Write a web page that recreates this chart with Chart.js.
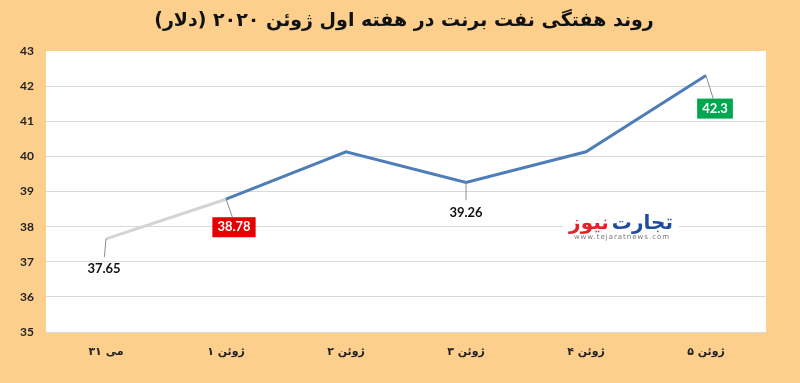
<!DOCTYPE html>
<html>
<head>
<meta charset="utf-8">
<script src="https://cdn.jsdelivr.net/npm/chart.js@4"></script>
<style>
  html, body { margin: 0; padding: 0; background: #fdcf8c; }
  #wrap { width: 800px; height: 383px; }
</style>
</head>
<body>
<div id="wrap"><canvas id="brent"></canvas></div>
<script>
const titleText = "روند هفتگی نفت برنت در هفته اول ژوئن ۲۰۲۰ (دلار)";
const days = ["۳۱ می", "۱ ژوئن", "۲ ژوئن", "۳ ژوئن", "۴ ژوئن", "۵ ژوئن"];
const brentPrice = [37.65, 38.78, 40.13, 39.26, 40.13, 42.3];
const yTicks = [35, 36, 37, 38, 39, 40, 41, 42, 43];

// which points get a label, and how it looks
const labelStyle = {
  0: { dx: -2, dy: 30, box: null },
  1: { dx: 8, dy: 28, box: "#e60000" },
  3: { dx: 0, dy: 30, box: null },
  5: { dx: 9, dy: 33, box: "#00a650" },
};

const bgPlugin = {
  id: "bg",
  beforeDraw(chart) {
    const { ctx, chartArea: a } = chart;
    ctx.save();
    ctx.fillStyle = "#fdcf8c";
    ctx.fillRect(0, 0, chart.width, chart.height);
    ctx.fillStyle = "#ffffff";
    ctx.fillRect(a.left, a.top, a.right - a.left, a.bottom - a.top);
    ctx.restore();
  },
  afterDraw(chart) {
    const ctx = chart.ctx;
    ctx.save();
    ctx.fillStyle = "#111";
    ctx.font = "bold 19px 'DejaVu Sans'";
    ctx.textAlign = "center";
    ctx.textBaseline = "middle";
    ctx.direction = "rtl";
    ctx.fillText(titleText, 404, 21);
    ctx.restore();
  }
};

const logoPlugin = {
  id: "logo",
  beforeDatasetsDraw(chart) {
    const ctx = chart.ctx;
    const x = chart.scales.x.getPixelForValue(4) + 35;
    const y = chart.scales.y.getPixelForValue(38);
    ctx.save();
    ctx.fillStyle = "#fff";
    ctx.fillRect(x - 58, y - 14, 116, 30);
    ctx.font = "bold 20px 'DejaVu Sans'";
    ctx.textBaseline = "middle";
    ctx.direction = "ltr";
    ctx.textAlign = "right";
    const blue = "تجارت", red = "نیوز";
    const wb = ctx.measureText(blue).width;
    const wr = ctx.measureText(red).width;
    const total = wb + wr + 3;
    const right = x + total / 2;
    ctx.fillStyle = "#1d4e9e";
    ctx.fillText(blue, right, y - 3);
    ctx.fillStyle = "#e32228";
    ctx.fillText(red, right - wb - 3, y - 3);
    ctx.font = "7px 'DejaVu Sans'";
    ctx.fillStyle = "#777";
    ctx.textAlign = "center";
    ctx.letterSpacing = "1px";
    ctx.fillText("www.tejaratnews.com", x + 1, y + 11);
    ctx.restore();
  }
};

const labelPlugin = {
  id: "pointLabels",
  afterDatasetsDraw(chart) {
    const ctx = chart.ctx;
    const meta = chart.getDatasetMeta(0);
    ctx.save();
    Object.keys(labelStyle).forEach(k => {
      const i = Number(k);
      const s = labelStyle[i];
      const p = meta.data[i];
      const tx = p.x + s.dx, ty = p.y + s.dy;
      const txt = String(brentPrice[i]);
      ctx.strokeStyle = "#8c8c8c";
      ctx.lineWidth = 1;
      ctx.beginPath();
      ctx.moveTo(p.x, p.y);
      ctx.lineTo(tx - s.dx * 0.2, ty - (s.box ? 10 : 12));
      ctx.stroke();
      ctx.font = "bold 13px Lato";
      ctx.textAlign = "center";
      ctx.textBaseline = "middle";
      if (s.box) {
        const w = ctx.measureText(txt).width + 10;
        ctx.fillStyle = s.box;
        ctx.fillRect(tx - w / 2, ty - 10, w, 20);
        ctx.fillStyle = "#fff";
      } else {
        ctx.fillStyle = "#111";
      }
      ctx.fillText(txt, tx, ty);
    });
    ctx.restore();
  }
};

new Chart(document.getElementById("brent"), {
  type: "line",
  data: {
    labels: days,
    datasets: [{
      data: brentPrice,
      borderWidth: 3,
      borderColor: "#4f7db8",
      pointRadius: 0,
      tension: 0,
      segment: {
        borderColor: c => c.p0DataIndex === 0 ? "#d4d4d4" : "#4f7db8"
      }
    }]
  },
  options: {
    responsive: true,
    maintainAspectRatio: false,
    animation: false,
    layout: { padding: { top: 51, right: 34, left: 0, bottom: 0 } },
    plugins: {
      legend: { display: false },
      tooltip: { enabled: false },
      title: { display: false }
    },
    scales: {
      x: {
        offset: true,
        grid: { display: false, drawTicks: false },
        border: { display: false },
        ticks: {
          padding: 14,
          color: "#222",
          font: { family: "'DejaVu Sans'", size: 11, weight: "bold" }
        },
        afterFit(scale) { scale.height = 51; }
      },
      y: {
        min: 35,
        max: 43,
        afterBuildTicks(scale) { scale.ticks = yTicks.map(v => ({ value: v })); },
        grid: {
          color: c => c.tick && c.tick.value === 43 ? "rgba(0,0,0,0)" : "#d9d9d9",
          lineWidth: 1,
          drawTicks: false
        },
        border: { display: false },
        ticks: {
          padding: 12,
          color: "#222",
          font: { family: "Lato", size: 12, weight: "bold" }
        },
        afterFit(scale) { scale.width = 46; }
      }
    }
  },
  plugins: [bgPlugin, logoPlugin, labelPlugin]
});
</script>
</body>
</html>
